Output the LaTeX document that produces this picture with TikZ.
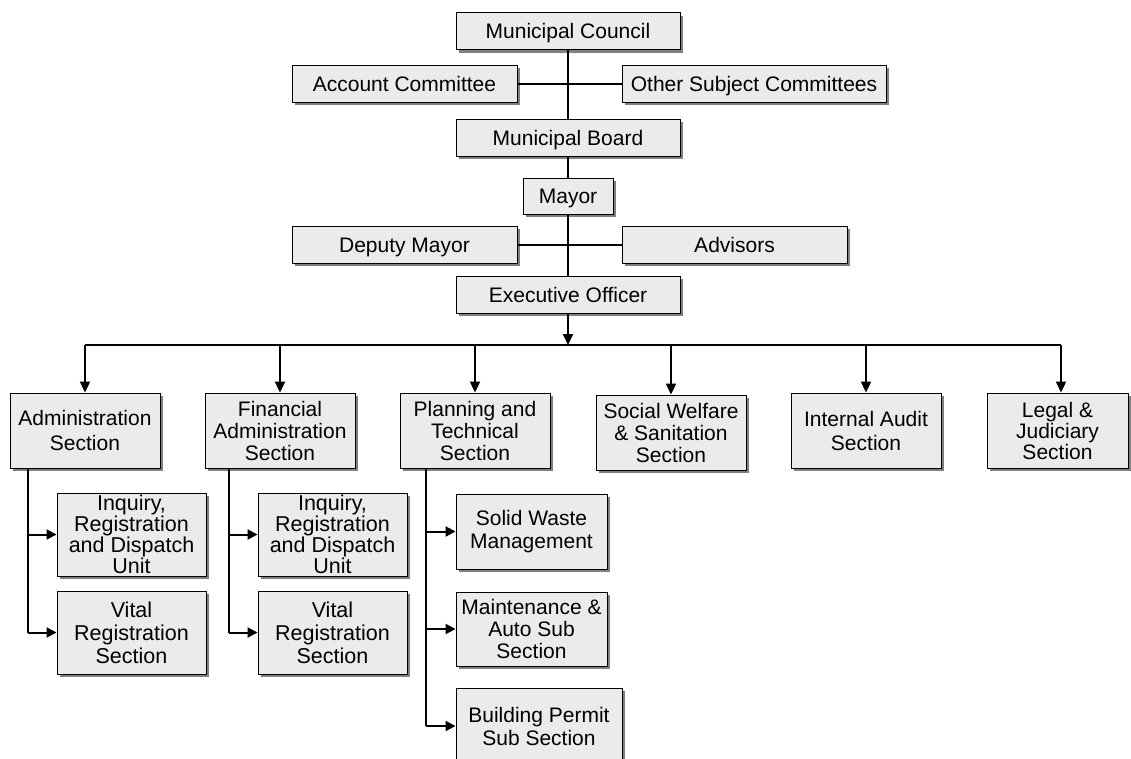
\documentclass[tikz,border=0pt]{standalone}
\usepackage{fontspec}
\setmainfont{Liberation Sans}
\usetikzlibrary{arrows.meta,shadows}
\definecolor{boxfill}{HTML}{EBEBEB}
\definecolor{shadowgray}{HTML}{808080}
\tikzset{
  orgbox/.style={draw=black, line width=0.9pt, fill=boxfill, inner sep=0pt, align=center,
    font=\fontsize{21}{23}\selectfont,
    drop shadow={shadow xshift=3pt, shadow yshift=-3pt, fill=shadowgray, opacity=1}},
  oneline/.style={text height=15pt, text depth=0pt},
  link/.style={line width=2pt, black},
  arrowlink/.style={line width=2pt, black, -{Triangle[length=11pt,width=10pt]}},
  subarrow/.style={line width=2pt, black, -{Triangle[length=10pt,width=10pt]}}
}
\begin{document}
\begin{tikzpicture}[x=1pt,y=-1pt]
\useasboundingbox (0,0) rectangle (1131,758);
\fill[white] (0,0) rectangle (1131,758);

% top spine
\node[orgbox, oneline, minimum width=224pt, minimum height=37pt] (mc) at (568,31) {Municipal Council};
\node[orgbox, oneline, minimum width=225pt, minimum height=37pt] (ac) at (404.5,83.5) {Account Committee};
\node[orgbox, oneline, minimum width=264pt, minimum height=37pt] (osc) at (754,83.5) {Other Subject Committees};
\node[orgbox, oneline, minimum width=224pt, minimum height=37pt] (mb) at (568,137.5) {Municipal Board};
\node[orgbox, oneline, minimum width=90pt, minimum height=36pt] (mayor) at (568,196) {Mayor};
\node[orgbox, oneline, minimum width=225pt, minimum height=37pt] (dm) at (404.5,244.7) {Deputy Mayor};
\node[orgbox, oneline, minimum width=225pt, minimum height=37pt] (adv) at (734.5,244.7) {Advisors};
\node[orgbox, oneline, minimum width=224pt, minimum height=37pt] (eo) at (568,294.7) {Executive Officer};

% level 2
\node[orgbox, minimum width=150pt, minimum height=75pt, font=\fontsize{21}{25}\selectfont] (admin) at (85,430.5) {Administration\\Section};
\node[orgbox, minimum width=150pt, minimum height=75pt, font=\fontsize{21}{22}\selectfont] (fin) at (280,430.5) {Financial\\Administration\\Section};
\node[orgbox, minimum width=150pt, minimum height=75pt, font=\fontsize{21}{22}\selectfont] (plan) at (475,430.5) {Planning and\\Technical\\Section};
\node[orgbox, minimum width=150pt, minimum height=75pt, font=\fontsize{21}{22}\selectfont] (soc) at (671,432.5) {Social Welfare\\\& Sanitation\\Section};
\node[orgbox, minimum width=150pt, minimum height=75pt, font=\fontsize{21}{24}\selectfont] (aud) at (866,430.5) {Internal Audit\\Section};
\node[orgbox, minimum width=141pt, minimum height=75pt, font=\fontsize{21}{21}\selectfont] (leg) at (1057.5,430.5) {Legal \&\\Judiciary\\Section};

% level 3
\node[orgbox, minimum width=149pt, minimum height=83pt, font=\fontsize{21.5}{19.5}\selectfont] (inq1) at (131.5,534.5) {Inquiry,\\Registration\\and Dispatch\\Unit};
\node[orgbox, minimum width=149pt, minimum height=83pt, font=\fontsize{21.5}{23}\selectfont] (vit1) at (131.5,632.5) {Vital\\Registration\\Section};
\node[orgbox, minimum width=149pt, minimum height=83pt, font=\fontsize{21.5}{19.5}\selectfont] (inq2) at (332.5,534.5) {Inquiry,\\Registration\\and Dispatch\\Unit};
\node[orgbox, minimum width=149pt, minimum height=83pt, font=\fontsize{21.5}{23}\selectfont] (vit2) at (332.5,632.5) {Vital\\Registration\\Section};
\node[orgbox, minimum width=151pt, minimum height=75pt] (sw) at (531.5,531.5) {Solid Waste\\Management};
\node[orgbox, minimum width=151pt, minimum height=74pt, font=\fontsize{21}{22}\selectfont] (mnt) at (531.5,629) {Maintenance \&\\Auto Sub\\Section};
\node[orgbox, minimum width=166pt, minimum height=76pt] (bp) at (539,726) {Building Permit\\Sub Section};

% spine connectors
\draw[link] (ac.east) -- (osc.west);
\draw[link] (dm.east) -- (adv.west);
\draw[link] (mc.south) -- (mb.north);
\draw[link] (mb.south) -- (mayor.north);
\draw[link] (mayor.south) -- (eo.north);

% bus
\coordinate (busL) at (85,345);
\coordinate (busR) at (1061,345);
\draw[link] (busL) -- (busR);
\draw[arrowlink] (eo.south) -- (eo.south |- busL);
\draw[arrowlink] (admin.north |- busL) -- (admin.north);
\draw[arrowlink] (fin.north |- busL) -- (fin.north);
\draw[arrowlink] (plan.north |- busL) -- (plan.north);
\draw[arrowlink] (soc.north |- busL) -- (soc.north);
\draw[arrowlink] (aud.north |- busL) -- (aud.north);
\draw[arrowlink] (busR) -- (busR |- leg.north);

% branches
\coordinate (ax) at (28,468);
\coordinate (fx) at (229,468);
\coordinate (px) at (426,468);
\draw[link] (ax) -- (ax |- vit1.west);
\draw[subarrow] (ax |- inq1.west) -- (inq1.west);
\draw[subarrow] (ax |- vit1.west) -- (vit1.west);
\draw[link] (fx) -- (fx |- vit2.west);
\draw[subarrow] (fx |- inq2.west) -- (inq2.west);
\draw[subarrow] (fx |- vit2.west) -- (vit2.west);
\draw[link] (px) -- (px |- bp.west);
\draw[subarrow] (px |- sw.west) -- (sw.west);
\draw[subarrow] (px |- mnt.west) -- (mnt.west);
\draw[subarrow] (px |- bp.west) -- (bp.west);
\end{tikzpicture}
\end{document}
